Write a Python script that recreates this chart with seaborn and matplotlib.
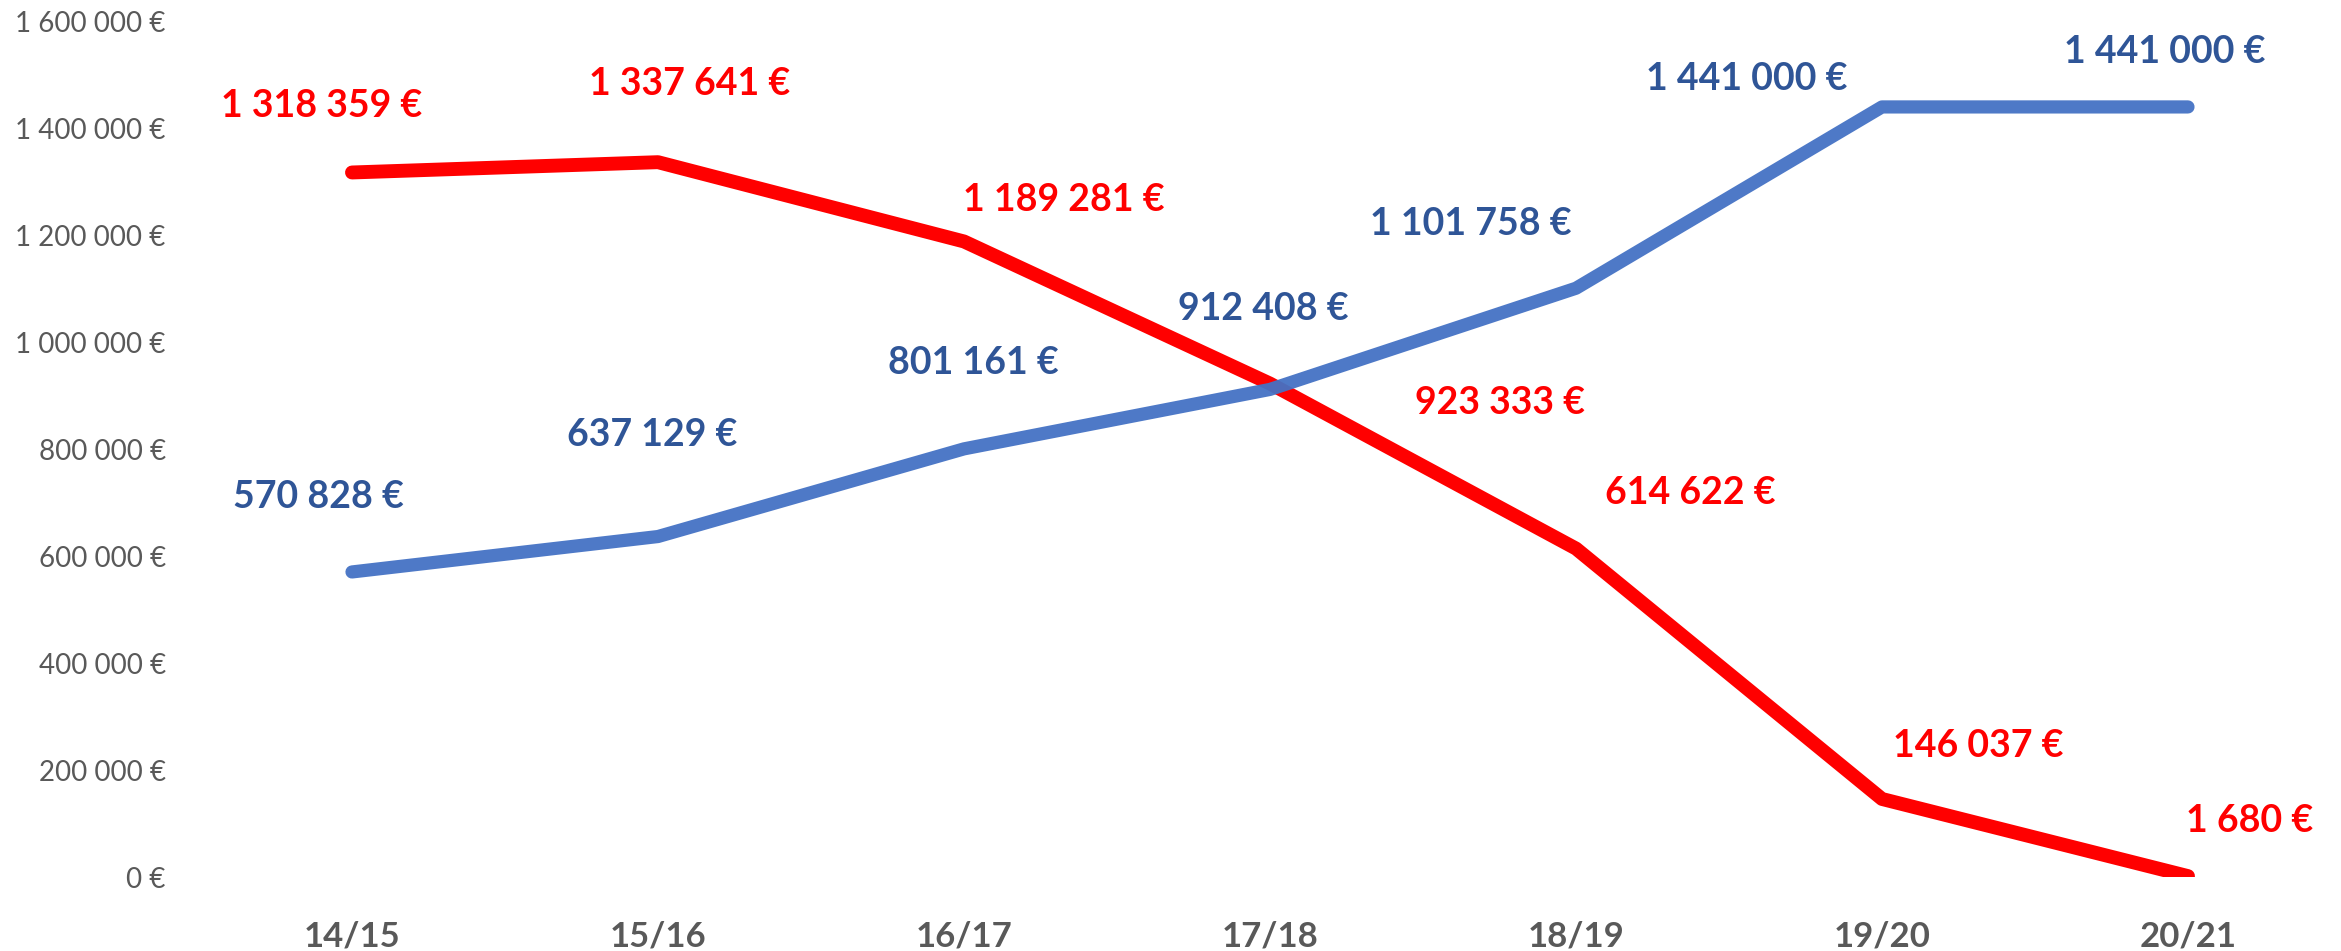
import matplotlib
matplotlib.use("Agg")
import matplotlib.pyplot as plt
import seaborn as sns
import pandas as pd
import numpy as np

# ---- data ----
seasons = ["14/15", "15/16", "16/17", "17/18", "18/19", "19/20", "20/21"]
red_values = [1318359, 1337641, 1189281, 923333, 614622, 146037, 1680]
blue_values = [570828, 637129, 801161, 912408, 1101758, 1441000, 1441000]
y_ticks = [0, 200000, 400000, 600000, 800000, 1000000, 1200000, 1400000, 1600000]

# label offsets (pixels) - styling only
red_offsets = [(-30, 66), (32, 78), (100, 41), (230, -19), (114, 56), (96, 53), (62, 55)]
blue_offsets = [(-34, 75), (-6, 102), (9, 86), (-7, 80), (-105, 64), (-135, 28), (-23, 55)]


def fmt(v):
    return f"{v:,}".replace(",", " ") + " €"


sns.set_theme(style="white")
plt.rcParams["font.family"] = ["Lato", "DejaVu Sans"]

df = pd.DataFrame({
    "x": list(range(len(seasons))) * 2,
    "value": red_values + blue_values,
    "series": ["red"] * len(seasons) + ["blue"] * len(seasons),
})

fig = plt.figure(figsize=(23.41, 9.51), dpi=100)
ax = fig.add_axes([0.085, 0.0778, 0.915, 0.8991])

RED = "#FF0000"
BLUE = "#4472C4"
BLUE_TXT = "#2F5597"

sns.lineplot(data=df[df.series == "red"], x="x", y="value", color=RED, lw=10,
             ax=ax, solid_capstyle="round", solid_joinstyle="round", zorder=2)
sns.lineplot(data=df[df.series == "blue"], x="x", y="value", color=BLUE, lw=9.5,
             ax=ax, solid_capstyle="round", solid_joinstyle="round", zorder=3, alpha=0.95)

for i, v in enumerate(red_values):
    dx, dy = red_offsets[i]
    ax.annotate(fmt(v), (i, v), xytext=(dx, dy), textcoords="offset pixels",
                ha="center", va="center", color=RED, fontsize=27, fontweight="bold", zorder=5)
for i, v in enumerate(blue_values):
    dx, dy = blue_offsets[i]
    ax.annotate(fmt(v), (i, v), xytext=(dx, dy), textcoords="offset pixels",
                ha="center", va="center", color=BLUE_TXT, fontsize=27, fontweight="bold", zorder=5)

ax.set_xlim(-0.5, len(seasons) - 0.5)
ax.set_ylim(0, 1600000)
ax.set_xticks(range(len(seasons)))
ax.set_xticklabels(seasons, fontsize=25, fontweight="bold", color="#595959")
ax.set_yticks(y_ticks)
ax.set_yticklabels([fmt(t) for t in y_ticks], fontsize=20, color="#595959")
ax.tick_params(axis="x", length=0, pad=31)
ax.tick_params(axis="y", length=0, pad=24)
ax.set_xlabel("")
ax.set_ylabel("")
for s in ax.spines.values():
    s.set_visible(False)
ax.grid(False)

fig.savefig("out.png", dpi=100)
